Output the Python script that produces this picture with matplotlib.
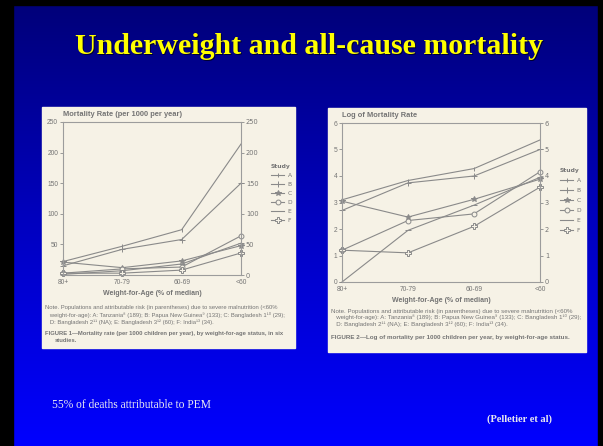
import numpy as np
import matplotlib
matplotlib.use("Agg")
from matplotlib import pyplot as plt
from matplotlib.patches import Rectangle
from matplotlib.colors import LinearSegmentedColormap

# weight-for-age groups (% of median) and studies
groups = ["80+", "70-79", "60-69", "<60"]
studies = ["A", "B", "C", "D", "E", "F"]

# Figure 1: mortality rate (per 1000 per year)
rate_a = [22, 47, 74, 214]
rate_b = [15, 42, 58, 150]
rate_c = [21, 12, 23, 48]
rate_d = [3, 10, 13, 64]
rate_e = [1, 7, 18, 52]
rate_f = [3, 3, 8, 36]

# Figure 2: log of mortality rate
log_a = [3.1, 3.83, 4.28, 5.36]
log_b = [2.7, 3.74, 4.0, 5.0]
log_c = [3.05, 2.45, 3.12, 3.88]
log_d = [1.2, 2.32, 2.57, 4.16]
log_e = [0.0, 1.95, 2.9, 3.95]
log_f = [1.2, 1.1, 2.1, 3.58]

W, H = 603, 446
def fx(px):
    return px / W
def fy(py):
    return 1 - py / H

ink = "#747474"
line_col = "#8a8a8a"
paper = "#f6f2e6"
sans = ["Liberation Sans", "DejaVu Sans"]

# marker per study: (marker, size, filled)
styles = {"A": ("|", 3, True), "B": ("+", 4, True), "C": ("*", 4, True),
          "D": ("o", 3.5, False), "E": ("_", 5, True), "F": ("P", 4, False)}

fig = plt.figure(figsize=(W / 100, H / 100), dpi=100)

# slide background
bg = fig.add_axes([0, 0, 1, 1], zorder=-10)
grad = np.linspace(0, 1, 256).reshape(-1, 1)
cmap = LinearSegmentedColormap.from_list("slide", ["#000078", "#0000c0", "#0000ff"])
bg.imshow(grad, aspect="auto", cmap=cmap, extent=[0, 1, 0, 1], origin="upper")
bg.set_xlim(0, 1)
bg.set_ylim(0, 1)
bg.axis("off")
bg.add_patch(Rectangle((0, 0), fx(13), 1, color="black"))
bg.add_patch(Rectangle((0, fy(5)), 1, 5 / H, color="black"))
bg.add_patch(Rectangle((fx(598), 0), 5 / W, 1, color="black"))
# scanned pages
bg.add_patch(Rectangle((fx(42), fy(348)), fx(295) - fx(42), (348 - 107) / H, color=paper))
bg.add_patch(Rectangle((fx(328), fy(352)), fx(586) - fx(328), (352 - 108) / H, color=paper))

# title with shadow
for dx, dy, c in [(1.5, -1.5, "#000030"), (0, 0, "#ffff00")]:
    fig.text(fx(309) + dx / W, fy(46) + dy / H, "Underweight and all-cause mortality",
             ha="center", va="center", fontsize=21.5, fontweight="bold",
             family="Liberation Serif", color=c)

fig.text(fx(52), fy(405), "55% of deaths attributable to PEM", fontsize=8.3,
         family="Liberation Serif", color="#e8e8f0", va="center")
fig.text(fx(552), fy(419), "(Pelletier et al)", fontsize=7.5, fontweight="bold",
         family="Liberation Serif", color="#e8e8f0", va="center", ha="right")


def draw_panel(rect, series, ymax, ystep, ylabel, legend_xy, legend_gap, hide_left0):
    ax = fig.add_axes(rect)
    ax.set_facecolor(paper)
    x = np.arange(len(groups))
    handles = []
    for name, vals in zip(studies, series):
        m, ms, filled = styles[name]
        ln, = ax.plot(x, vals, color=line_col, lw=0.8, marker=m, ms=ms, mew=0.7,
                      mfc=line_col if filled else paper, mec=line_col, clip_on=False)
        handles.append(ln)
    ax.set_xlim(0, 3)
    ax.set_ylim(0, ymax)
    ax.set_xticks(x)
    ax.set_xticklabels(groups, fontsize=4.8, color=ink, family=sans)
    ax.tick_params(axis="x", length=0, pad=3)
    ticks = np.arange(0, ymax + 0.001, ystep)
    labels = [f"{t:g}" for t in ticks]
    ax.set_yticks(ticks)
    ax.set_yticklabels([""] + labels[1:] if hide_left0 else labels)
    ax.tick_params(axis="y", length=2, width=0.6, color=line_col,
                   labelsize=4.8, labelcolor=ink, pad=1.5)
    for lab in ax.get_yticklabels():
        lab.set_family(sans)
    ax2 = ax.secondary_yaxis("right")
    ax2.set_yticks(ticks)
    ax2.set_yticklabels(labels)
    ax2.tick_params(length=2, width=0.6, color=line_col, labelsize=4.8,
                    labelcolor=ink, pad=1.5)
    ax2.spines["right"].set_visible(False)
    for s in ax.spines.values():
        s.set_color("#9c9c9c")
        s.set_linewidth(0.8)
    ax.set_xlabel("Weight-for-Age (% of median)", fontsize=5.0, fontweight="bold",
                  color=ink, family=sans, labelpad=2.5)
    ax.text(0, 1.025, ylabel, transform=ax.transAxes, fontsize=5.4,
            fontweight="bold", color=ink, family=sans, va="bottom")
    leg = ax.legend(handles, studies, loc="upper left",
                    bbox_to_anchor=(fx(legend_xy[0]), fy(legend_xy[1])),
                    bbox_transform=fig.transFigure, frameon=False, fontsize=4.3,
                    title="Study", title_fontsize=4.3, handlelength=2.2,
                    handletextpad=0.6, labelspacing=legend_gap, borderpad=0,
                    alignment="left")
    for t in leg.get_texts():
        t.set_color(ink)
    leg.get_title().set_color(ink)
    leg.get_title().set_fontweight("bold")
    return ax


draw_panel([fx(63), fy(275), fx(241) - fx(63), (275 - 122) / H],
           [rate_a, rate_b, rate_c, rate_d, rate_e, rate_f], 250, 50,
           "Mortality Rate (per 1000 per year)", (268, 161), 0.65, True)

draw_panel([fx(342), fy(282), fx(540) - fx(342), (282 - 123) / H],
           [log_a, log_b, log_c, log_d, log_e, log_f], 6, 1,
           "Log of Mortality Rate", (557, 165), 0.8, False)

notes = ["Note. Populations and attributable risk (in parentheses) due to severe malnutrition (<60%",
         "   weight-for-age): A: Tanzania\u2078 (189); B: Papua New Guinea\u2079 (133); C: Bangladesh 1\u00b9\u2070 (29);",
         "   D: Bangladesh 2\u00b9\u00b9 (NA); E: Bangladesh 3\u00b9\u00b2 (60); F: India\u00b9\u00b3 (34)."]
for i, s in enumerate(notes):
    fig.text(fx(45), fy(308 + 7 * i), s, fontsize=4.2, color=ink, family=sans, va="center")
fig.text(fx(45), fy(334), "FIGURE 1\u2014Mortality rate (per 1000 children per year), by weight-for-age status, in six",
         fontsize=4.2, fontweight="bold", color=ink, family=sans, va="center")
fig.text(fx(55), fy(341), "studies.", fontsize=4.2, fontweight="bold", color=ink,
         family=sans, va="center")

for i, s in enumerate(notes):
    fig.text(fx(331), fy(311 + 6.5 * i), s, fontsize=4.4, color=ink, family=sans, va="center")
fig.text(fx(331), fy(337), "FIGURE 2\u2014Log of mortality per 1000 children per year, by weight-for-age status.",
         fontsize=4.5, fontweight="bold", color=ink, family=sans, va="center")

fig.savefig("out.png", dpi=100)
